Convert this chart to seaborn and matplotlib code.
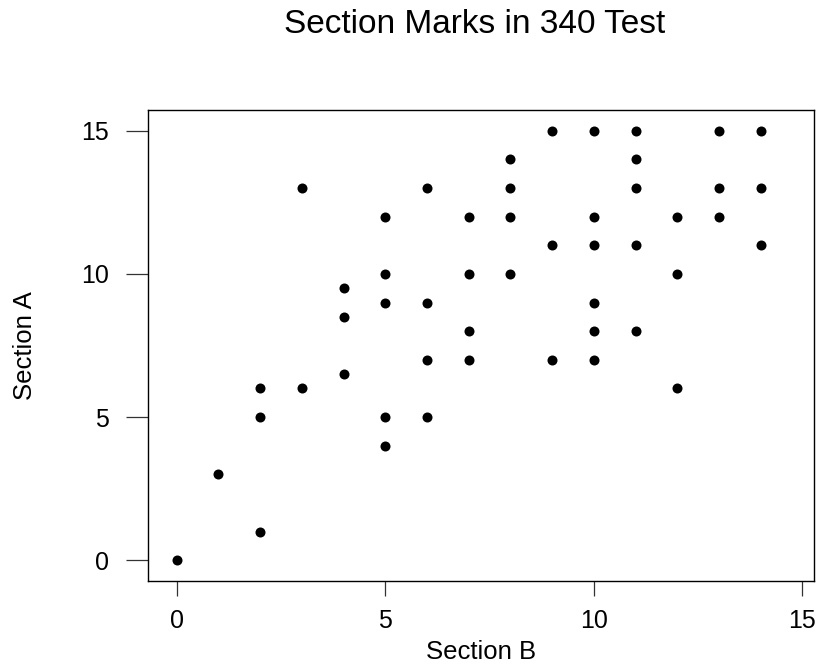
import matplotlib
matplotlib.use("Agg")
import matplotlib.pyplot as plt
import seaborn as sns
import pandas as pd

# Marks scored by each student in the two sections
section_b = [0, 1, 2, 2, 2, 3, 3, 4, 4, 4, 5, 5, 5, 5, 5, 6, 6, 6, 6,
             7, 7, 7, 7, 8, 8, 8, 8, 9, 9, 9, 10, 10, 10, 10, 10, 10,
             11, 11, 11, 11, 11, 12, 12, 12, 13, 13, 13, 14, 14, 14]
section_a = [0, 3, 1, 5, 6, 6, 13, 6.5, 8.5, 9.5, 4, 5, 9, 10, 12, 5, 7, 9, 13,
             7, 8, 10, 12, 10, 12, 13, 14, 7, 11, 15, 7, 8, 9, 11, 12, 15,
             8, 11, 13, 14, 15, 6, 10, 12, 12, 13, 15, 11, 13, 15]
x_ticks = [0, 5, 10, 15]
y_ticks = [0, 5, 10, 15]

df = pd.DataFrame({"Section B": section_b, "Section A": section_a})

sns.set_theme(style="white")
plt.rcParams["font.family"] = ["Liberation Sans", "DejaVu Sans"]
plt.rcParams["text.color"] = "black"
plt.rcParams["axes.labelcolor"] = "black"
plt.rcParams["xtick.color"] = "black"
plt.rcParams["ytick.color"] = "black"

fig = plt.figure(figsize=(8.19, 6.66), dpi=100)
ax = fig.add_axes([148 / 819, 1 - 581 / 666, (814 - 148) / 819, (581 - 110) / 666])

sns.scatterplot(data=df, x="Section B", y="Section A", ax=ax,
                color="black", s=52, edgecolor="black", linewidth=0)

ax.set_xlim(-0.69, 15.28)
ax.set_ylim(-0.72, 15.72)
ax.set_xticks(x_ticks)
ax.set_yticks(y_ticks)
ax.set_xticklabels([str(t) for t in x_ticks])
ax.set_yticklabels([str(t) for t in y_ticks])

for sp in ax.spines.values():
    sp.set_visible(True)
    sp.set_color("black")
    sp.set_linewidth(1.0)

ax.tick_params(axis="x", direction="out", length=11, width=0.9, color="#333333",
               labelcolor="black", labelsize=18, pad=9, bottom=True)
ax.tick_params(axis="y", direction="out", length=16, width=0.9, color="#333333",
               labelcolor="black", labelsize=18, pad=12, left=True)

ax.set_xlabel("Section B", fontsize=18.5, labelpad=5, color="black")
ax.set_ylabel("Section A", fontsize=18.5, labelpad=32, color="black")

fig.text(475 / 819, 1 - 33 / 666, "Section Marks in 340 Test",
         ha="center", va="baseline", fontsize=24, color="black")

fig.savefig("out.png", dpi=100, facecolor="white")
